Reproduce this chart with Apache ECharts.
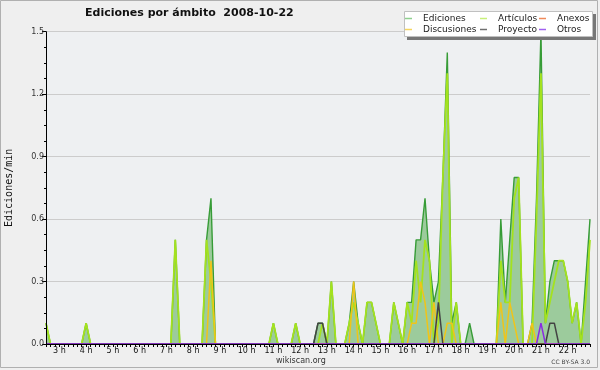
<!DOCTYPE html>
<html><head><meta charset="utf-8">
<script src="https://cdn.jsdelivr.net/npm/echarts@6/dist/echarts.min.js"></script>
<style>html,body{margin:0;padding:0;background:#efefef}#c{width:600px;height:370px}</style>
</head><body><div id="c"></div>
<script>
// 10-minute bins from 02:30 to 22:50
const startTime = '02:30';
const binMinutes = 10;
const binCount = 123;

const seriesNames = ['Ediciones', 'Artículos', 'Discusiones', 'Anexos', 'Proyecto', 'Otros'];

const ediciones = [
  0.1,0,0,0,0,0,0,0,0,0.1,
  0,0,0,0,0,0,0,0,0,0,
  0,0,0,0,0,0,0,0,0,0.5,
  0,0,0,0,0,0,0.5,0.7,0,0,
  0,0,0,0,0,0,0,0,0,0,
  0,0.1,0,0,0,0,0.1,0,0,0,
  0,0.1,0.1,0,0.3,0,0,0,0.1,0.3,
  0.1,0,0.2,0.2,0.1,0,0,0,0.2,0.1,
  0,0.2,0.2,0.5,0.5,0.7,0.4,0.2,0.3,0.8,
  1.4,0.1,0.2,0,0,0.1,0,0,0,0,
  0,0,0.6,0.2,0.5,0.8,0.8,0,0,0.1,
  0.7,1.5,0.1,0.3,0.4,0.4,0.4,0.3,0.1,0.2,
  0,0.3,0.6
];
const articulos = [
  0.1,0,0,0,0,0,0,0,0,0.1,
  0,0,0,0,0,0,0,0,0,0,
  0,0,0,0,0,0,0,0,0,0.5,
  0,0,0,0,0,0,0.5,0.3,0,0,
  0,0,0,0,0,0,0,0,0,0,
  0,0.1,0,0,0,0,0.1,0,0,0,
  0,0,0.1,0,0.3,0,0,0,0.1,0.2,
  0.1,0,0.2,0.2,0.1,0,0,0,0.2,0.1,
  0,0.2,0.1,0.4,0.2,0.5,0.4,0,0.1,0.8,
  1.3,0,0.2,0,0,0,0,0,0,0,
  0,0,0.4,0.2,0.2,0.7,0.8,0,0,0,
  0.6,1.3,0.1,0.2,0.3,0.4,0.4,0.3,0.1,0.2,
  0,0.2,0.5
];
const discusiones = [
  0,0,0,0,0,0,0,0,0,0,
  0,0,0,0,0,0,0,0,0,0,
  0,0,0,0,0,0,0,0,0,0,
  0,0,0,0,0,0,0,0.4,0,0,
  0,0,0,0,0,0,0,0,0,0,
  0,0,0,0,0,0,0,0,0,0,
  0,0,0,0,0,0,0,0,0,0.3,
  0,0,0,0,0,0,0,0,0,0,
  0,0,0.1,0.1,0.3,0.2,0,0.2,0,0,
  0.1,0.1,0,0,0,0,0,0,0,0,
  0,0,0.2,0,0.2,0.1,0,0,0,0.1,
  0,0,0,0,0,0,0,0,0,0,
  0,0,0
];
const anexos = new Array(binCount).fill(0);
const proyecto = [
  0,0,0,0,0,0,0,0,0,0,
  0,0,0,0,0,0,0,0,0,0,
  0,0,0,0,0,0,0,0,0,0,
  0,0,0,0,0,0,0,0,0,0,
  0,0,0,0,0,0,0,0,0,0,
  0,0,0,0,0,0,0,0,0,0,
  0,0.1,0.1,0,0,0,0,0,0,0,
  0,0,0,0,0,0,0,0,0,0,
  0,0,0,0,0,0,0,0,0.2,0,
  0,0,0,0,0,0,0,0,0,0,
  0,0,0,0,0,0,0,0,0,0,
  0,0,0,0.1,0.1,0,0,0,0,0,
  0,0,0
];
const otros = [
  0,0,0,0,0,0,0,0,0,0,
  0,0,0,0,0,0,0,0,0,0,
  0,0,0,0,0,0,0,0,0,0,
  0,0,0,0,0,0,0,0,0,0,
  0,0,0,0,0,0,0,0,0,0,
  0,0,0,0,0,0,0,0,0,0,
  0,0,0,0,0,0,0,0,0,0,
  0,0,0,0,0,0,0,0,0,0,
  0,0,0,0,0,0,0,0,0,0,
  0,0,0,0,0,0,0,0,0,0,
  0,0,0,0,0,0,0,0,0,0,
  0,0.1,0,0,0,0,0,0,0,0,
  0,0,0
];
const yTicks = [0, 0.3, 0.6, 0.9, 1.2, 1.5];

// time category labels
const times = [];
{
  const [h0, m0] = startTime.split(':').map(Number);
  for (let k = 0; k < binCount; k++) {
    const t = h0 * 60 + m0 + k * binMinutes;
    times.push(String(Math.floor(t / 60)).padStart(2, '0') + ':' + String(t % 60).padStart(2, '0'));
  }
}

const FONT = 'DejaVu Sans';
const lineColors = {
  'Ediciones': '#379c37', 'Artículos': '#a4e21e', 'Discusiones': '#f0c419',
  'Anexos': '#f07840', 'Proyecto': '#444444', 'Otros': '#8a2be2'
};
const legendColors = {
  'Ediciones': '#8fd08f', 'Artículos': '#c8f07a', 'Discusiones': '#f5d560',
  'Anexos': '#f08a5a', 'Proyecto': '#707070', 'Otros': '#a060f0'
};
const dataByName = {
  'Ediciones': ediciones, 'Artículos': articulos, 'Discusiones': discusiones,
  'Anexos': anexos, 'Proyecto': proyecto, 'Otros': otros
};

function legendAt(left, names) {
  return {
    orient: 'vertical', left: left, top: 13, padding: 0, itemGap: 0, z: 60,
    itemWidth: 7, itemHeight: 1.5, icon: 'rect', selectedMode: false,
    textStyle: { fontFamily: FONT, fontSize: 9, color: '#222', lineHeight: 11, padding: [0, 0, 0, 6] },
    data: names.map(n => ({ name: n, itemStyle: { color: legendColors[n] } }))
  };
}

const chart = echarts.init(document.getElementById('c'), null, { renderer: 'canvas' });
chart.setOption({
  animation: false,
  backgroundColor: '#efefef',
  title: {
    text: 'Ediciones por ámbito  2008-10-22', left: 85, top: 8, padding: 0,
    textStyle: { fontFamily: FONT, fontSize: 11, fontWeight: 'bold', color: '#111' }
  },
  graphic: [
    { type: 'rect', z: -10, silent: true, shape: { x: 0.5, y: 0.5, width: 597, height: 367 },
      style: { fill: '#efefef', stroke: '#b0b0b0', lineWidth: 1 } },
    { type: 'rect', z: 50, silent: true, shape: { x: 407, y: 14, width: 189, height: 26 },
      style: { fill: '#777777' } },
    { type: 'rect', z: 51, silent: true, shape: { x: 404.5, y: 11.5, width: 188, height: 25 },
      style: { fill: '#ffffff', stroke: '#c0c0c0', lineWidth: 1 } },
    { type: 'text', z: 60, silent: true, left: 276, top: 357,
      style: { text: 'wikiscan.org', font: '8px "DejaVu Sans"', fill: '#333' } },
    { type: 'text', z: 60, silent: true, right: 10, top: 359,
      style: { text: 'CC BY-SA 3.0', font: '6px "DejaVu Sans"', fill: '#444' } }
  ],
  legend: [
    legendAt(405, ['Ediciones', 'Discusiones']),
    legendAt(480, ['Artículos', 'Proyecto']),
    legendAt(539, ['Anexos', 'Otros'])
  ],
  grid: { left: 46, right: 10, top: 31.7, bottom: 26, show: true, backgroundColor: '#eef0f2', borderWidth: 0,
          containLabel: false, outerBoundsMode: 'none' },
  xAxis: {
    type: 'category', data: times, boundaryGap: false, z: 10,
    axisLine: { lineStyle: { color: '#000', width: 1 } },
    axisTick: { show: true, interval: 0, length: 3, lineStyle: { color: '#000' } },
    axisLabel: {
      interval: (i, v) => v.endsWith(':00'),
      formatter: v => parseInt(v, 10) + ' h',
      fontFamily: FONT, fontSize: 8, color: '#111', margin: 3
    },
    splitLine: { show: false }
  },
  yAxis: [{
    type: 'value', min: yTicks[0], max: yTicks[yTicks.length - 1], interval: yTicks[1] - yTicks[0], z: 10,
    axisLine: { show: true, lineStyle: { color: '#000' } },
    axisTick: { show: true, length: 4, lineStyle: { color: '#000' } },
    minorTick: { show: true, splitNumber: 4, length: 2, lineStyle: { color: '#000' } },
    axisLabel: { formatter: v => v.toFixed(1), fontFamily: FONT, fontSize: 8, color: '#333', margin: 2 },
    splitLine: { show: false },
    name: 'Ediciones/min', nameLocation: 'middle', nameGap: 32,
    nameTextStyle: { fontFamily: 'DejaVu Sans Mono', fontSize: 10, color: '#111' }
  }, {
    type: 'value', min: yTicks[0], max: yTicks[yTicks.length - 1], interval: yTicks[1] - yTicks[0], z: 0,
    axisLine: { show: false }, axisTick: { show: false }, axisLabel: { show: false },
    splitLine: { show: true, lineStyle: { color: '#cccccc', width: 1 } }
  }],
  series: seriesNames.map((n, i) => {
    const s = {
      name: n, type: 'line', symbol: 'none', yAxisIndex: 0, z: 2 + i,
      data: dataByName[n],
      lineStyle: { color: lineColors[n], width: n === 'Ediciones' ? 1.4 : (n === 'Artículos' ? 1.8 : 1.5) },
      itemStyle: { color: lineColors[n] },
      emphasis: { disabled: true }
    };
    if (n === 'Ediciones') s.areaStyle = { color: '#9ccb9c', opacity: 1 };
    return s;
  })
});
</script>
</body></html>
